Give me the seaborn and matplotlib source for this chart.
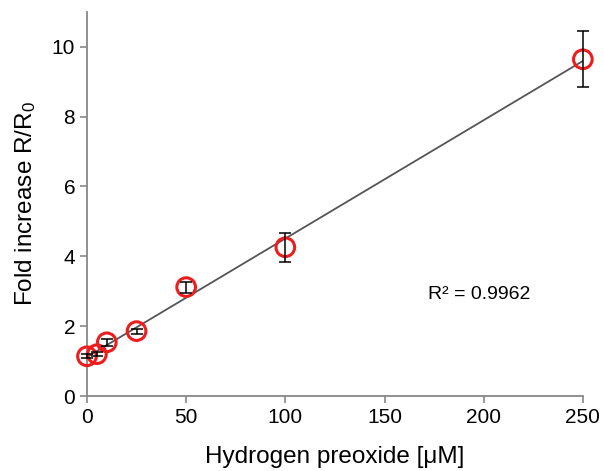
import numpy as np
import pandas as pd
import matplotlib
matplotlib.use("Agg")
import matplotlib.pyplot as plt
import seaborn as sns

# 数据
conc = [0, 5, 10, 25, 50, 100, 250]
fold = [1.14, 1.20, 1.54, 1.86, 3.12, 4.26, 9.64]
err = [0.06, 0.06, 0.10, 0.07, 0.16, 0.42, 0.80]
r2_text = "R² = 0.9962"

df = pd.DataFrame({"conc": conc, "fold": fold, "err": err})

sns.set_style("ticks")
plt.rcParams['font.family'] = ['Liberation Sans', 'DejaVu Sans']
plt.rcParams['mathtext.fontset'] = 'custom'
plt.rcParams['mathtext.rm'] = 'Liberation Sans'
plt.rcParams['mathtext.it'] = 'Liberation Sans:italic'
plt.rcParams['text.color'] = 'black'
plt.rcParams['axes.labelcolor'] = 'black'
plt.rcParams['xtick.labelcolor'] = 'black'
plt.rcParams['ytick.labelcolor'] = 'black'

fig = plt.figure(figsize=(6.04, 4.71), dpi=100)
ax = fig.add_axes([0.144, 0.159, 0.821, 0.816])

# 线性拟合趋势线
sns.regplot(data=df, x="conc", y="fold", ci=None, scatter=False, ax=ax,
            line_kws=dict(color="#555555", lw=1.3, zorder=2))

# 红色空心圆
sns.scatterplot(data=df, x="conc", y="fold", ax=ax, s=180, marker="o",
                facecolor="none", edgecolor="#ee1c1c", linewidth=2.2,
                zorder=3, clip_on=False)

# 误差棒
ax.errorbar(df["conc"], df["fold"], yerr=df["err"], fmt="none",
            ecolor="black", elinewidth=1.1, capsize=4.5, capthick=1.1,
            zorder=4, clip_on=False)

ax.text(172, 2.9, r2_text, fontsize=14, ha="left", va="center")

ax.set_xlim(0, 250)
ax.set_ylim(0, 11)
ax.set_xticks(range(0, 251, 50))
ax.set_yticks(range(0, 11, 2))
ax.tick_params(labelsize=15, color="#888888", length=5, width=1.2)
for side in ["left", "bottom"]:
    ax.spines[side].set_color("#888888")
    ax.spines[side].set_linewidth(1.3)
sns.despine(ax=ax)

ax.set_xlabel("Hydrogen preoxide [μM]", fontsize=17.5, labelpad=14)
ax.set_ylabel(r"Fold increase R/R$_\mathregular{0}$", fontsize=17.5, labelpad=10)

fig.savefig("out.png", dpi=100)
